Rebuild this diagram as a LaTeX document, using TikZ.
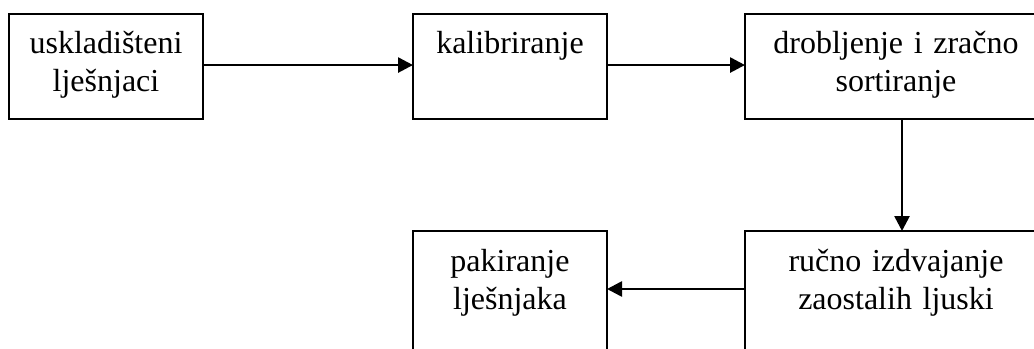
\documentclass[tikz,border=0pt]{standalone}
\usepackage{fontspec}
\setmainfont{Liberation Serif}
\usetikzlibrary{arrows.meta}

\begin{document}
\begin{tikzpicture}[x=0.75pt, y=-0.75pt,
    korak/.style={draw, line width=1.3pt, inner sep=0pt, outer sep=0pt, anchor=north west,
      align=center, font=\fontsize{24}{28.5}\selectfont, text height=30pt, text depth=48.75pt},
    uski/.style={korak, text width=145.5pt},
    siroki/.style={korak, text width=226.5pt},
    tok/.style={line width=2pt, -{Triangle[length=11.25pt, width=11.25pt]}}]

  % Bounding box of the scheme
  \useasboundingbox (0,0) rectangle (1034,349);
  \clip (0,0) rectangle (1034,349);

  %%%%%%%%%%%%%%%%%%%%%%%%%%%%%%%%% Koraci postupka %%%%%%%%%%%%%%%%%%%%%%%%%%%%%%%%%%%%
  \node[uski] (sklad) at (9,14) {uskladišteni\\lješnjaci};
  \node[uski] (kalib) at (413,14) {kalibriranje};
  \node[siroki] (drob) at (745,14) {drobljenje i zračno\\sortiranje};

  \node[uski, text depth=61.5pt] (pak) at (413,231) {pakiranje\\lješnjaka};
  \node[siroki, text depth=61.5pt] (ruc) at (745,231) {ručno izdvajanje\\zaostalih ljuski};

  %%%%%%%%%%%%%%%%%%%%%%%%%%%%%%%%% Tok %%%%%%%%%%%%%%%%%%%%%%%%%%%%%%%%%%%%
  \draw[tok] ([yshift=1.1pt]sklad.east) -- ([yshift=1.1pt]kalib.west);
  \draw[tok] ([yshift=1.1pt]kalib.east) -- ([yshift=1.1pt]drob.west);
  \draw[tok] ([xshift=4.5pt]drob.south) -- ([xshift=4.5pt]ruc.north);
  \draw[tok] ([yshift=2.25pt]ruc.west) -- ([yshift=2.25pt]pak.east);

\end{tikzpicture}
\end{document}
